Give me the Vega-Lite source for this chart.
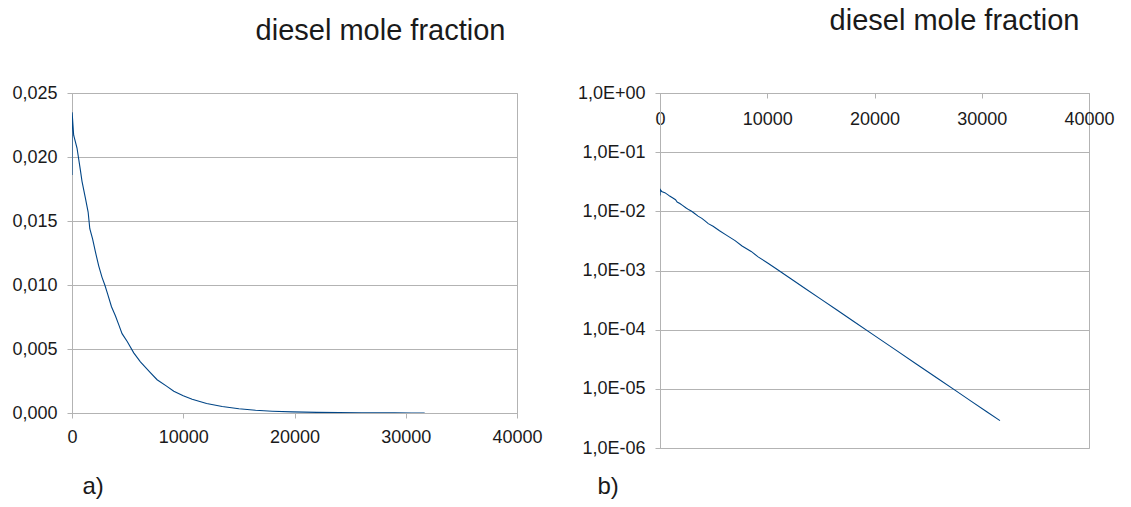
{
  "$schema": "https://vega.github.io/schema/vega-lite/v6.json",
  "padding": {"left": 11, "top": 6, "right": 0, "bottom": 0},
  "bounds": "flush",
  "spacing": 143,
  "config": {
    "font": "Liberation Sans",
    "view": {"stroke": "#b3b3b3", "strokeWidth": 1},
    "axis": {
      "domainColor": "#b3b3b3",
      "tickColor": "#b3b3b3",
      "gridColor": "#b3b3b3",
      "labelFont": "Liberation Sans",
      "labelFontSize": 18,
      "labelColor": "#1a1a1a",
      "tickSize": 5,
      "labelPadding": 10,
      "titleFont": "Liberation Sans",
      "titleFontSize": 24,
      "titleFontWeight": "normal",
      "titleColor": "#1a1a1a"
    },
    "title": {"font": "Liberation Sans", "fontSize": 29, "fontWeight": "normal", "color": "#1a1a1a"}
  },
  "datasets": {
    "diesel": [
      {"t": 0, "mole_fraction": 0.0186},
      {"t": 10, "mole_fraction": 0.0235},
      {"t": 150, "mole_fraction": 0.0217},
      {"t": 450, "mole_fraction": 0.0207},
      {"t": 750, "mole_fraction": 0.0190},
      {"t": 900, "mole_fraction": 0.0181},
      {"t": 1200, "mole_fraction": 0.0168},
      {"t": 1450, "mole_fraction": 0.0157},
      {"t": 1600, "mole_fraction": 0.0144},
      {"t": 1850, "mole_fraction": 0.0136},
      {"t": 2100, "mole_fraction": 0.0126},
      {"t": 2400, "mole_fraction": 0.0115},
      {"t": 2700, "mole_fraction": 0.0106},
      {"t": 2950, "mole_fraction": 0.0100},
      {"t": 3200, "mole_fraction": 0.0093},
      {"t": 3550, "mole_fraction": 0.0083},
      {"t": 3900, "mole_fraction": 0.0076},
      {"t": 4200, "mole_fraction": 0.0069},
      {"t": 4500, "mole_fraction": 0.0062},
      {"t": 4950, "mole_fraction": 0.0056},
      {"t": 5550, "mole_fraction": 0.0047},
      {"t": 6150, "mole_fraction": 0.0040},
      {"t": 7000, "mole_fraction": 0.0032},
      {"t": 7650, "mole_fraction": 0.0026},
      {"t": 8500, "mole_fraction": 0.0021},
      {"t": 9150, "mole_fraction": 0.0017},
      {"t": 10000, "mole_fraction": 0.00135},
      {"t": 10800, "mole_fraction": 0.00108},
      {"t": 12100, "mole_fraction": 0.000747},
      {"t": 13500, "mole_fraction": 0.000502},
      {"t": 15000, "mole_fraction": 0.000328},
      {"t": 16500, "mole_fraction": 0.000215},
      {"t": 18000, "mole_fraction": 0.000140},
      {"t": 19800, "mole_fraction": 0.0000842},
      {"t": 22000, "mole_fraction": 0.0000451},
      {"t": 24000, "mole_fraction": 0.0000256},
      {"t": 26000, "mole_fraction": 0.0000145},
      {"t": 27500, "mole_fraction": 0.0000095},
      {"t": 29000, "mole_fraction": 0.0000062},
      {"t": 30500, "mole_fraction": 0.00000405},
      {"t": 31700, "mole_fraction": 0.0000029}
    ]
  },
  "hconcat": [
    {
      "width": 445,
      "height": 320,
      "title": {"text": "diesel mole fraction", "frame": "group", "anchor": "middle", "dx": 86, "offset": 38},
      "data": {"name": "diesel"},
      "mark": {"type": "line", "color": "#004586", "strokeWidth": 1.1, "clip": true},
      "encoding": {
        "x": {
          "field": "t", "type": "quantitative",
          "scale": {"domain": [0, 40000], "nice": false, "zero": false},
          "axis": {
            "values": [0, 10000, 20000, 30000, 40000], "format": "d", "grid": false,
            "labelFlush": false,
            "title": "a)", "titleX": 10, "titleY": 80, "titleAlign": "left", "titleBaseline": "alphabetic", "titleAnchor": "start"
          }
        },
        "y": {
          "field": "mole_fraction", "type": "quantitative",
          "scale": {"domain": [0, 0.025], "nice": false},
          "axis": {
            "values": [0, 0.005, 0.01, 0.015, 0.02, 0.025],
            "labelExpr": "replace(format(datum.value, '.3f'), '.', ',')",
            "grid": true, "title": null
          }
        }
      }
    },
    {
      "width": 429,
      "height": 355,
      "title": {"text": "diesel mole fraction", "frame": "group", "anchor": "middle", "dx": 80, "offset": 48},
      "data": {"name": "diesel"},
      "mark": {"type": "line", "color": "#004586", "strokeWidth": 1.1, "clip": true},
      "encoding": {
        "x": {
          "field": "t", "type": "quantitative",
          "scale": {"domain": [0, 40000], "nice": false, "zero": false},
          "axis": {
            "orient": "bottom", "offset": -355,
            "values": [0, 10000, 20000, 30000, 40000], "format": "d", "grid": false,
            "labelFlush": false, "labelPadding": 12,
            "title": "b)", "titleX": -63, "titleY": 400, "titleAlign": "left", "titleBaseline": "alphabetic", "titleAnchor": "start"
          }
        },
        "y": {
          "field": "mole_fraction", "type": "quantitative",
          "scale": {"type": "log", "domain": [0.000001, 1], "nice": false},
          "axis": {
            "values": [0.000001, 0.00001, 0.0001, 0.001, 0.01, 0.1, 1],
            "labelExpr": "'1,0E' + (datum.value >= 1 ? '+' : '-') + (abs(round(log(datum.value) / LN10)) < 10 ? '0' : '') + abs(round(log(datum.value) / LN10))",
            "grid": true, "title": null
          }
        }
      }
    }
  ]
}
